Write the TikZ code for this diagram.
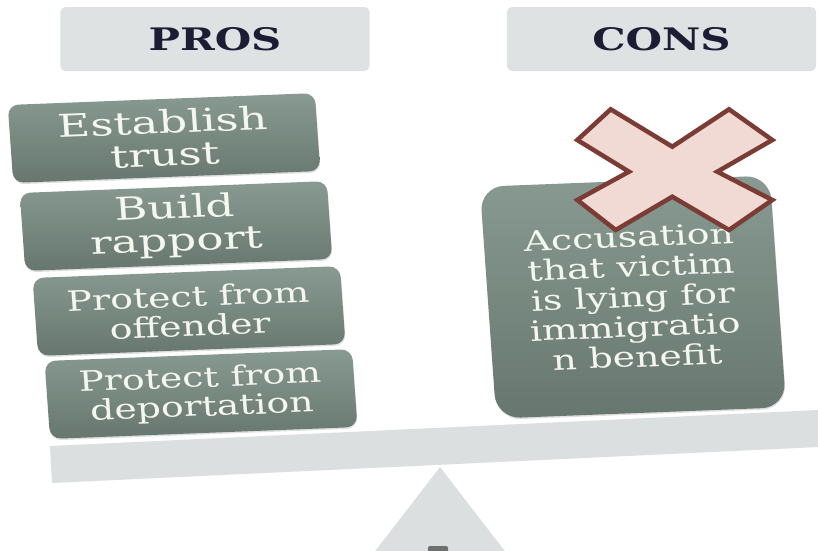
\documentclass[tikz,border=0pt]{standalone}
\usepackage{fontspec}
\setmainfont{DejaVu Serif}
\usetikzlibrary{shadows}
\definecolor{hdrfill}{RGB}{222,226,226}
\definecolor{hdrtext}{RGB}{28,28,52}
\definecolor{gtop}{RGB}{136,154,145}
\definecolor{gbot}{RGB}{103,119,111}
\definecolor{beamgray}{RGB}{219,223,223}
\definecolor{xfill}{RGB}{242,218,212}
\definecolor{xline}{RGB}{122,60,52}
\definecolor{gtext}{RGB}{246,246,240}
\definecolor{darkbit}{RGB}{110,112,112}
\begin{document}
\begin{tikzpicture}[x=1pt,y=-1pt,
  hdr/.style={fill=hdrfill, rounded corners=5pt, minimum width=229pt, minimum height=64pt,
    xscale=1.35, font=\fontsize{31}{34}\selectfont\bfseries, text=hdrtext, inner sep=0pt},
  probox/.style={top color=gtop, bottom color=gbot, rounded corners=11pt, minimum width=228pt,
    minimum height=78pt, xscale=1.35, rotate=3, text=gtext, align=center, inner sep=2pt,
    drop shadow={opacity=0.25, shadow xshift=0.5pt, shadow yshift=-1.5pt}},
  bigbox/.style={probox, minimum width=215pt, xscale=1.43/1.35,
    rounded corners=10.5pt},
  conbox/.style={top color=gtop, bottom color=gbot, rounded corners=24pt, minimum width=215pt,
    minimum height=232pt, xscale=1.35, rotate=3, text=gtext, align=center, inner sep=2pt,
    font=\fontsize{28}{30}\selectfont,
    drop shadow={opacity=0.25, shadow xshift=0.5pt, shadow yshift=-1.5pt}},
  xmark/.style={fill=xfill, draw=xline, line width=4.5pt, line join=miter}
]
\clip (0,0) rectangle (818,550);
\fill[white] (0,0) rectangle (818,550);
% fulcrum and beam
\fill[beamgray] (440,467) -- (322,620) -- (558,620) -- cycle;
\fill[beamgray] (50,446) -- (840,409) -- (840,446) -- (52,483) -- cycle;
\fill[darkbit, rounded corners=2pt] (428,546) rectangle (448,562);
% headers
\node[hdr] (pros) at (215,39) {PROS};
\node[hdr] (cons) at (661.5,39) {CONS};
% pros
\node[bigbox, font=\fontsize{31.5}{33}\selectfont] (p1) at (164,138) {Establish\\trust};
\node[bigbox, font=\fontsize{31.5}{32.5}\selectfont] (p2) at (176,226) {Build\\rapport};
\node[probox, font=\fontsize{28}{29.5}\selectfont] (p3) at (189,311) {Protect from\\offender};
\node[probox, font=\fontsize{28}{29}\selectfont] (p4) at (201,394) {Protect from\\deportation};
% cons
\node[conbox] (c1) at (633,297) {Accusation\\that victim\\is lying for\\immigratio\\n benefit};
% X mark
\filldraw[xmark] (610.7,109.3) -- (672.3,146.7) -- (729,109.3) -- (772.3,140) -- (717.3,171.7)
  -- (772.3,200) -- (729,230) -- (672.3,196.7) -- (615.7,230) -- (577.3,200) -- (629,171.7)
  -- (577.3,140) -- cycle;
\end{tikzpicture}
\end{document}
